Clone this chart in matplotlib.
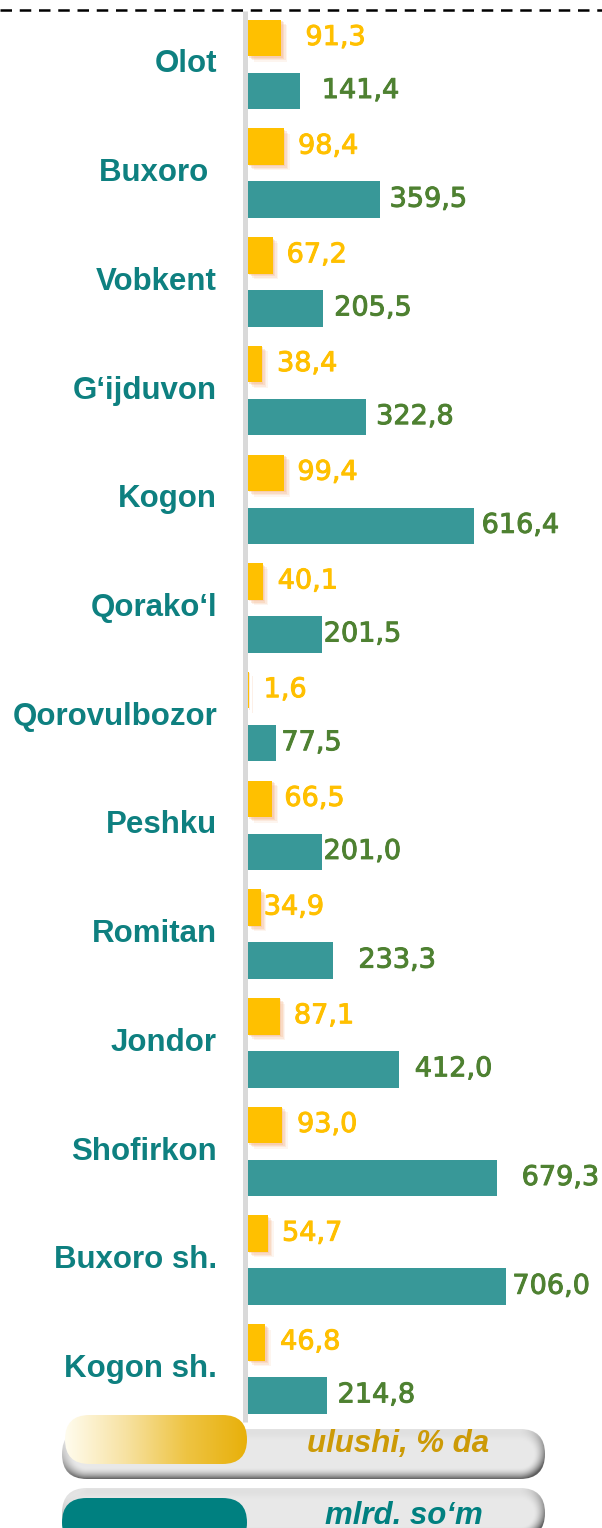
import numpy as np
import matplotlib.pyplot as plt
import matplotlib.patheffects as pe
from matplotlib.patches import FancyBboxPatch
from matplotlib.colors import LinearSegmentedColormap

districts = ["Olot", "Buxoro ", "Vobkent", "G‘ijduvon", "Kogon", "Qorako‘l",
             "Qorovulbozor", "Peshku", "Romitan", "Jondor", "Shofirkon",
             "Buxoro sh.", "Kogon sh."]
share_pct = [91.3, 98.4, 67.2, 38.4, 99.4, 40.1, 1.6, 66.5, 34.9, 87.1, 93.0, 54.7, 46.8]
volume_bln = [141.4, 359.5, 205.5, 322.8, 616.4, 201.5, 77.5, 201.0, 233.3, 412.0, 679.3, 706.0, 214.8]

legend_share = "ulushi, % da"
legend_volume = "mlrd. so‘m"

# gap between bar end and its value label, px
share_gap = [24, 14, 14, 15, 13, 15, 15, 12, 3, 14, 15, 14, 15]
volume_gap = [22, 10, 11, 10, 8, 2, 5, 2, 25, 16, 25, 6, 11]

YELLOW = "#FFC000"
TEAL_BAR = "#389898"
TEAL = "#0E8080"
GREEN = "#4E8131"

W, H = 602, 1528
PX = 0.366          # px per value unit
X0 = 248            # px where bars start
Y0, STEP = 64.5, 108.7
OFF, BH = 0.244, 0.336


def fmt(v):
    return f"{v:.1f}".replace(".", ",")


fig = plt.figure(figsize=(W / 100, H / 100), dpi=100)

# pixel overlay for decorations
ov = fig.add_axes([0, 0, 1, 1], zorder=0)
ov.set_xlim(0, W)
ov.set_ylim(H, 0)
ov.axis("off")

ax = fig.add_axes([0, 0, 1, 1], zorder=1)
ax.patch.set_alpha(0)
ax.set_xlim(-X0 / PX, (W - X0) / PX)
ax.set_ylim((H - Y0) / STEP, -Y0 / STEP)
ax.axis("off")

# soft orange glow under the yellow bars
glow = [pe.SimplePatchShadow(offset=(o, -o), shadow_rgbFace="#F4B183", alpha=a)
        for o, a in [(4, 0.12), (3, 0.18), (2, 0.25), (1, 0.3)]]

y = np.arange(len(districts))
ax.barh(y - OFF, share_pct, height=BH, color=YELLOW, path_effects=glow + [pe.Normal()])
ax.barh(y + OFF, volume_bln, height=BH, color=TEAL_BAR)

for i, name in enumerate(districts):
    ax.annotate(name, (0, i), xytext=(-31 * 0.72, 0), textcoords="offset points",
                ha="right", va="center", fontsize=22.5, fontweight="bold",
                family="Liberation Sans", color=TEAL)
    ax.annotate(fmt(share_pct[i]), (share_pct[i], i - OFF),
                xytext=(share_gap[i] * 0.72, 0), textcoords="offset points",
                ha="left", va="center", fontsize=19.5, color=YELLOW, family="DejaVu Sans",
                path_effects=[pe.withStroke(linewidth=0.7, foreground=YELLOW)])
    ax.annotate(fmt(volume_bln[i]), (volume_bln[i], i + OFF),
                xytext=(volume_gap[i] * 0.72, 0), textcoords="offset points",
                ha="left", va="center", fontsize=19.5, color=GREEN, family="DejaVu Sans",
                path_effects=[pe.withStroke(linewidth=0.7, foreground=GREEN)])

# dashed top rule and the category axis
ov.plot([0, W], [10, 10], color="black", lw=1.8, dashes=(4.6, 3.1), solid_capstyle="butt")
ov.plot([244.5, 244.5], [11, 1422], color="#D9D9D9", lw=3.6, solid_capstyle="butt")


def pill(x, y0, w, h, **kw):
    p = FancyBboxPatch((x, y0), w, h, boxstyle=f"round,pad=0,rounding_size={h / 2}", **kw)
    ov.add_patch(p)
    return p


def shaded_pill(x, y0, w, h):
    r = h / 2
    X, Y = np.meshgrid(np.arange(w) + 0.5, np.arange(h) + 0.5)
    cx = np.clip(X, r, w - r)
    dx, dy = X - cx, Y - r
    d = np.hypot(dx, dy) / r
    facing = np.clip((0.5 * dx + dy) / r, -1, 1)
    rim = np.clip((d - 0.55) / 0.45, 0, 1) ** 1.6
    g = np.clip(0.91 - rim * (0.28 + 0.26 * facing), 0, 1)
    img = np.dstack([g, g, g])
    p = pill(x, y0, w, h, facecolor="none", edgecolor="none")
    im = ov.imshow(img, extent=(x, x + w, y0 + h, y0), origin="upper",
                   interpolation="bilinear", zorder=1)
    im.set_clip_path(p)


def gradient_pill(x, y0, w, h, colors, z=2):
    cmap = LinearSegmentedColormap.from_list("g", colors)
    grad = np.linspace(0, 1, 256)[None, :]
    p = pill(x, y0, w, h, facecolor="none", edgecolor="none")
    im = ov.imshow(grad, cmap=cmap, extent=(x, x + w, y0 + h, y0), origin="upper",
                   aspect="auto", zorder=z)
    im.set_clip_path(p)


ov.set_aspect("auto")
shaded_pill(62, 1429, 483, 50)
gradient_pill(65, 1415, 182, 49, ["#FFFCEE", "#F7E2A2", "#EEC443", "#E8B00A"])
ov.text(398, 1452, legend_share, ha="center", va="baseline", fontsize=22.5,
        fontweight="bold", fontstyle="italic", family="Liberation Sans", color="#CC9A06", zorder=3)

shaded_pill(62, 1488, 483, 50)
pill(62, 1498, 185, 49, facecolor="#008080", edgecolor="none", zorder=2)
ov.text(404, 1524, legend_volume, ha="center", va="baseline", fontsize=22.5,
        fontweight="bold", fontstyle="italic", family="Liberation Sans", color="#008080", zorder=3)

ov.set_xlim(0, W)
ov.set_ylim(H, 0)

fig.savefig("out.png", dpi=100)
